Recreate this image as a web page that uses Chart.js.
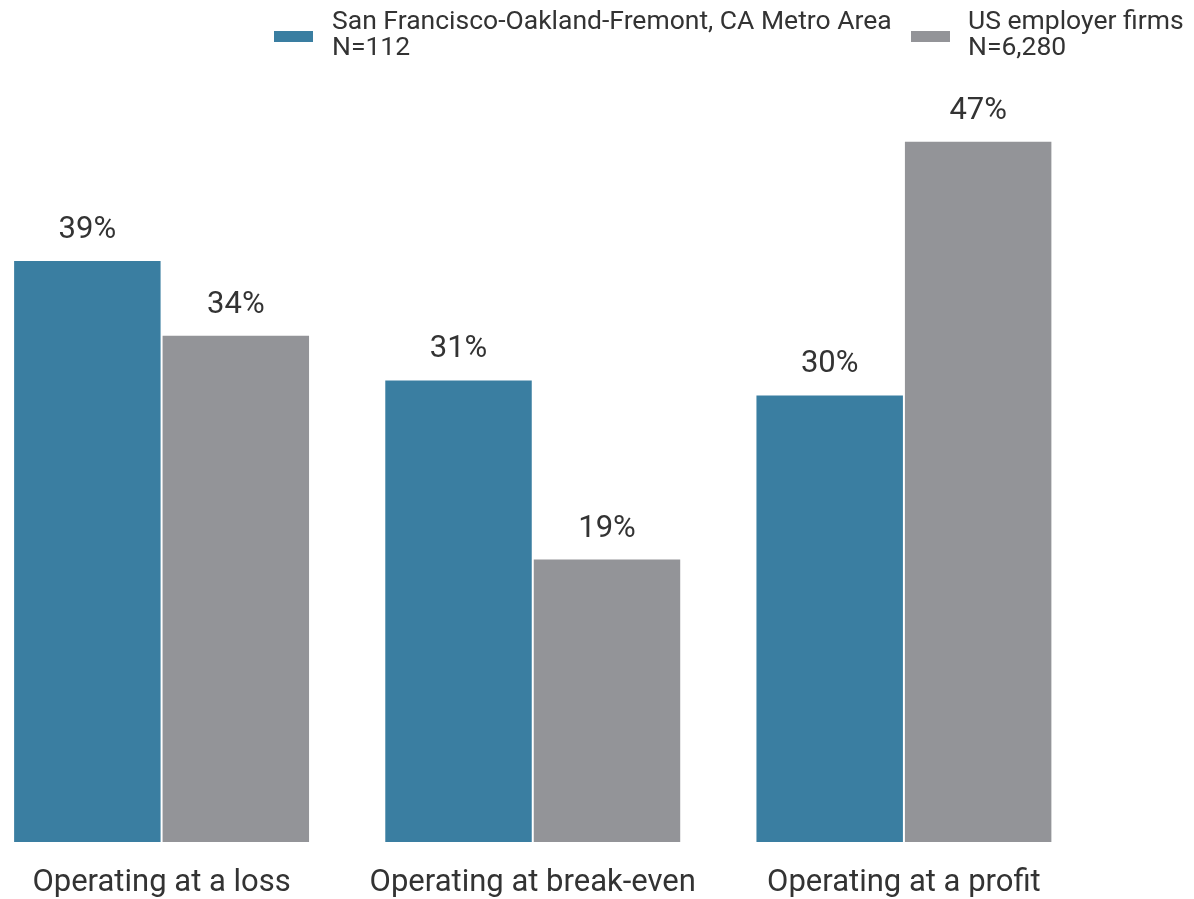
<!DOCTYPE html>
<html>
<head>
<meta charset="utf-8">
<script src="https://cdn.jsdelivr.net/npm/chart.js@4/dist/chart.umd.min.js"></script>
<style>
  html, body { margin: 0; padding: 0; background: #ffffff; }
  #wrap { position: relative; width: 1194px; height: 899px; overflow: hidden; font-family: Roboto, sans-serif; }
  #c { position: absolute; left: -24px; top: 0; }
  .lg { position: absolute; font-size: 26.5px; line-height: 26px; color: #333333; white-space: nowrap; }
  .sw { position: absolute; width: 39px; height: 11px; }
</style>
</head>
<body>
<div id="wrap">
  <canvas id="c" width="1218" height="899"></canvas>
  <div class="sw" id="sw0" style="left:274px; top:31px;"></div>
  <div class="lg" id="lg0" style="left:332px; top:7px;"></div>
  <div class="sw" id="sw1" style="left:911px; top:31px;"></div>
  <div class="lg" id="lg1" style="left:968px; top:7px;"></div>
</div>
<script>
const categories = ["Operating at a loss", "Operating at break-even", "Operating at a profit"];
const seriesNames = ["San Francisco-Oakland-Fremont, CA Metro Area", "US employer firms"];
const seriesN = ["N=112", "N=6,280"];
const sfValues = [39, 31, 30];
const usValues = [34, 19, 47];
const colors = ["#3a7ea1", "#939498"];

for (let i = 0; i < 2; i++) {
  document.getElementById('sw' + i).style.background = colors[i];
  document.getElementById('lg' + i).innerHTML = seriesNames[i] + '<br>' + seriesN[i];
}

const labelPlugin = {
  id: 'valueLabels',
  afterDatasetsDraw(chart) {
    const ctx = chart.ctx;
    ctx.save();
    ctx.font = '31px Roboto';
    ctx.fillStyle = '#333333';
    ctx.textAlign = 'center';
    ctx.textBaseline = 'alphabetic';
    chart.data.datasets.forEach((ds, di) => {
      const meta = chart.getDatasetMeta(di);
      meta.data.forEach((bar, i) => {
        ctx.fillText(ds.data[i] + '%', bar.x, bar.y - 22);
      });
    });
    ctx.restore();
  }
};

new Chart(document.getElementById('c'), {
  type: 'bar',
  data: {
    labels: categories,
    datasets: [
      { label: seriesNames[0], data: sfValues, backgroundColor: colors[0], borderColor: '#ffffff', borderWidth: 1, categoryPercentage: 0.8, barPercentage: 1.0 },
      { label: seriesNames[1], data: usValues, backgroundColor: colors[1], borderColor: '#ffffff', borderWidth: 1, categoryPercentage: 0.8, barPercentage: 1.0 }
    ]
  },
  options: {
    responsive: false,
    animation: false,
    layout: { padding: { left: 0, right: 104.5, top: 96, bottom: 0 } },
    plugins: { legend: { display: false }, tooltip: { enabled: false } },
    scales: {
      x: {
        grid: { display: false, drawTicks: false },
        border: { display: false },
        ticks: { font: { family: 'Roboto', size: 31 }, color: '#333333', padding: 23 },
        afterFit: (scale) => { scale.height = 57; }
      },
      y: { display: false, min: 0, max: 50 }
    }
  },
  plugins: [labelPlugin]
});
</script>
</body>
</html>
